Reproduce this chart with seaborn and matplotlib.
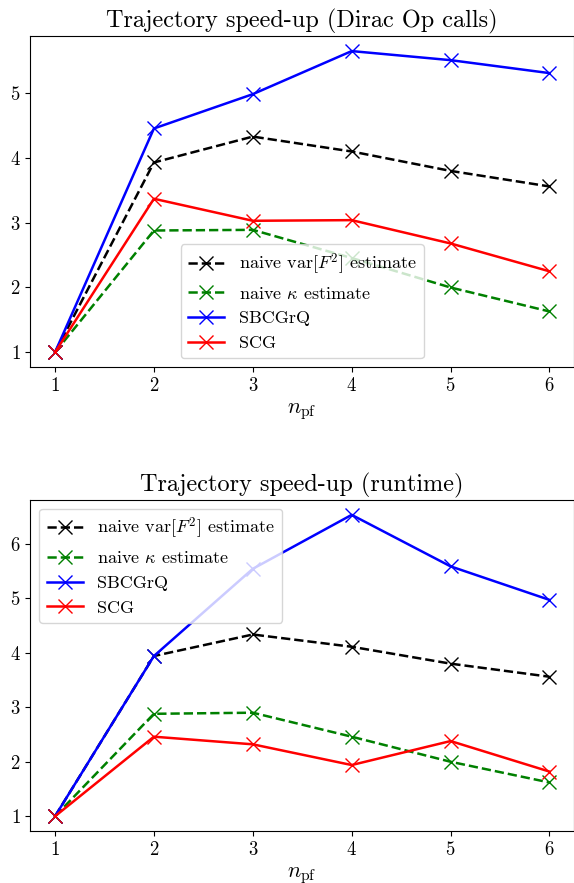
import seaborn as sns
import pandas as pd
import matplotlib.pyplot as plt

plt.rcParams['font.family'] = 'serif'
plt.rcParams['font.serif'] = ['cmr10']
plt.rcParams['mathtext.fontset'] = 'cm'
plt.rcParams['axes.formatter.use_mathtext'] = True
plt.rcParams['axes.unicode_minus'] = False

n_pf = [1, 2, 3, 4, 5, 6]

# Dirac Op calls
naive_var_calls = [1, 3.93, 4.33, 4.10, 3.80, 3.56]
naive_kappa_calls = [1, 2.88, 2.89, 2.455, 2.00, 1.63]
sbcgrq_calls = [1, 4.455, 4.985, 5.65, 5.51, 5.31]
scg_calls = [1, 3.37, 3.03, 3.04, 2.68, 2.25]

# runtime
naive_var_rt = [1, 3.94, 4.335, 4.11, 3.80, 3.56]
naive_kappa_rt = [1, 2.88, 2.90, 2.46, 2.00, 1.62]
sbcgrq_rt = [1, 3.94, 5.54, 6.53, 5.585, 4.97]
scg_rt = [1, 2.46, 2.32, 1.94, 2.38, 1.82]

labels = ['naive var[$F^2$] estimate', 'naive $\\kappa$ estimate', 'SBCGrQ', 'SCG']
colors = ['black', 'green', 'blue', 'red']
styles = ['--', '--', '-', '-']

fig = plt.figure(figsize=(5.74, 8.83), dpi=100)
ax1 = fig.add_axes([0.0528, 0.584, 0.9475, 0.3752])
ax2 = fig.add_axes([0.0528, 0.0585, 0.9475, 0.3755])


def draw(ax, series, title, loc):
    for y, lab, c, ls in zip(series, labels, colors, styles):
        sns.lineplot(x=n_pf, y=y, ax=ax, color=c, linestyle=ls, marker='x',
                     markersize=10, markeredgecolor=c, markeredgewidth=1.0,
                     linewidth=1.8, label=lab)
    ax.set_title(title, fontsize=17.5)
    ax.set_xlabel('$n_{\\mathrm{pf}}$', fontsize=16)
    ax.set_xticks(n_pf)
    ax.tick_params(labelsize=13.5)
    ax.legend(loc=loc, fontsize=13)


draw(ax1, [naive_var_calls, naive_kappa_calls, sbcgrq_calls, scg_calls],
     'Trajectory speed-up (Dirac Op calls)', 'lower center')
draw(ax2, [naive_var_rt, naive_kappa_rt, sbcgrq_rt, scg_rt],
     'Trajectory speed-up (runtime)', 'upper left')

fig.savefig('out.png', dpi=100)
